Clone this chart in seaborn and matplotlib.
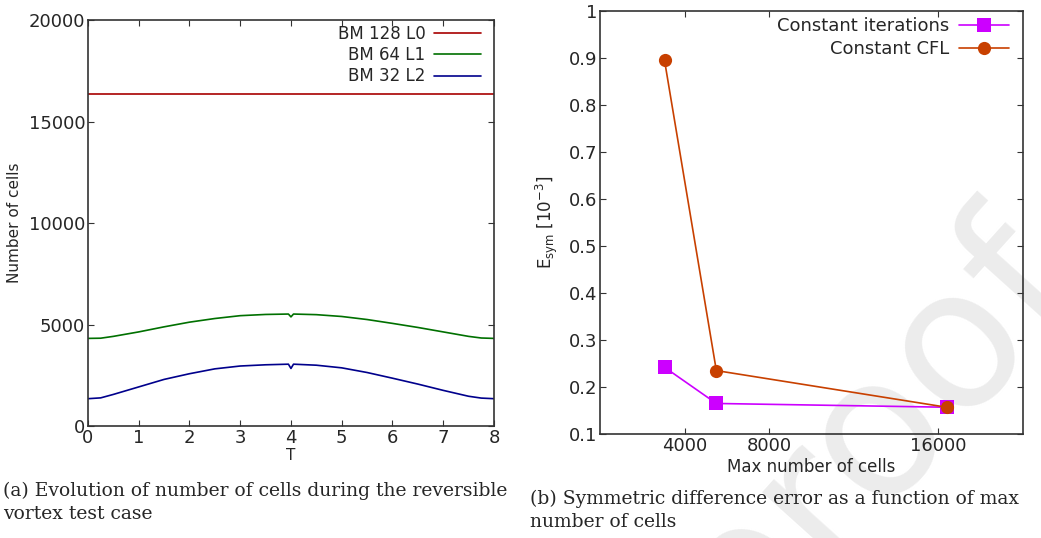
import matplotlib
matplotlib.use("Agg")
import matplotlib.pyplot as plt
import seaborn as sns
import pandas as pd

# ---------------- data ----------------
T = [0, 0.25, 0.5, 1.0, 1.5, 2.0, 2.5, 3.0, 3.5, 3.95, 4.0, 4.05, 4.5, 5.0, 5.5, 6.0, 6.5, 7.0, 7.5, 7.75, 8.0]
bm128_l0 = [16384] * len(T)
bm64_l1 = [4320, 4330, 4420, 4640, 4890, 5120, 5300, 5440, 5500, 5520, 5380, 5520, 5490, 5400, 5250, 5060, 4860, 4640, 4420, 4340, 4320]
bm32_l2 = [1350, 1390, 1560, 1930, 2300, 2580, 2820, 2960, 3020, 3050, 2840, 3050, 3000, 2870, 2640, 2360, 2070, 1760, 1470, 1380, 1350]
left_labels = ["BM 128 L0", "BM 64 L1", "BM 32 L2"]

max_cells = [3050, 5500, 16384]
const_iter = [0.242, 0.165, 0.157]
const_cfl = [0.895, 0.235, 0.157]
right_labels = ["Constant iterations", "Constant CFL"]

left_xticks = [0, 1, 2, 3, 4, 5, 6, 7, 8]
left_yticks = [0, 5000, 10000, 15000, 20000]
right_xticks = [4000, 8000, 16000]
right_yticks = [0.1, 0.2, 0.3, 0.4, 0.5, 0.6, 0.7, 0.8, 0.9, 1]

caption_a = "(a) Evolution of number of cells during the reversible\nvortex test case"
caption_b = "(b) Symmetric difference error as a function of max\nnumber of cells"

# ---------------- style ----------------
sns.set_style("ticks")
plt.rcParams["font.family"] = ["DejaVu Sans"]
plt.rcParams["xtick.direction"] = "in"
plt.rcParams["ytick.direction"] = "in"

fig = plt.figure(figsize=(10.41, 5.38), dpi=100)

# watermark (behind)
fig.text(0.836, 0.200, "proof", fontsize=140, color="#ececec", rotation=48,
         ha="center", va="center", rotation_mode="anchor", zorder=-5)

axL = fig.add_axes([0.0845, 0.208, 0.390, 0.7546])
axR = fig.add_axes([0.5764, 0.1933, 0.4063, 0.786])
for ax in (axL, axR):
    ax.set_facecolor("none")
    for s in ax.spines.values():
        s.set_color("#333333")
        s.set_linewidth(1.2)
    ax.tick_params(which="both", direction="in", top=True, right=True,
                   length=4, width=0.8, color="#333333", labelsize=13, pad=2)

# ---------------- left panel ----------------
dfL = pd.DataFrame({
    "T": T * 3,
    "cells": bm128_l0 + bm64_l1 + bm32_l2,
    "series": [left_labels[0]] * len(T) + [left_labels[1]] * len(T) + [left_labels[2]] * len(T),
})
sns.lineplot(data=dfL, x="T", y="cells", hue="series", ax=axL,
             palette=["#a80000", "#007000", "#00008c"], linewidth=1.2,
             estimator=None, sort=False)
axL.set_xlim(0, 8)
axL.set_ylim(0, 20000)
axL.set_xticks(left_xticks)
axL.set_yticks(left_yticks)
axL.set_xlabel("T", fontsize=11, labelpad=1)
axL.set_ylabel("Number of cells", fontsize=11, labelpad=5)
axL.legend(loc="upper right", bbox_to_anchor=(0.985, 1.005), frameon=False,
           fontsize=12, markerfirst=False, handlelength=2.85, handletextpad=0.5,
           labelspacing=0.2, borderaxespad=0.0)

# ---------------- right panel ----------------
dfR = pd.DataFrame({
    "cells": max_cells * 2,
    "err": const_iter + const_cfl,
    "series": [right_labels[0]] * 3 + [right_labels[1]] * 3,
})
sns.lineplot(data=dfR, x="cells", y="err", hue="series", style="series",
             markers={right_labels[0]: "s", right_labels[1]: "o"}, dashes=False,
             palette=["#cc00ff", "#c84000"], ax=axR, linewidth=1.2,
             markersize=9.5, markeredgewidth=0, estimator=None, sort=False)
axR.set_xlim(0, 20000)
axR.set_ylim(0.1, 1.0)
axR.set_xticks(right_xticks)
axR.set_xticklabels([str(v) for v in right_xticks])
axR.set_yticks(right_yticks)
axR.set_yticklabels([("%g" % v) for v in right_yticks])
axR.set_xlabel("Max number of cells", fontsize=12, labelpad=2)
axR.set_ylabel(r"E$_{\mathregular{sym}}$ [10$^{\mathregular{-3}}$]", fontsize=12, labelpad=6)
axR.legend(loc="upper right", bbox_to_anchor=(0.985, 1.003), frameon=False,
           fontsize=13, markerfirst=False, handlelength=2.8, handletextpad=0.55,
           labelspacing=0.28, borderaxespad=0.0)

# ---------------- captions ----------------
fig.text(0.003, 0.105, caption_a, fontsize=13.5, family="DejaVu Serif",
         va="top", ha="left", linespacing=1.4)
fig.text(0.509, 0.090, caption_b, fontsize=13.5, family="DejaVu Serif",
         va="top", ha="left", linespacing=1.4)

fig.savefig("out.png", dpi=100)
